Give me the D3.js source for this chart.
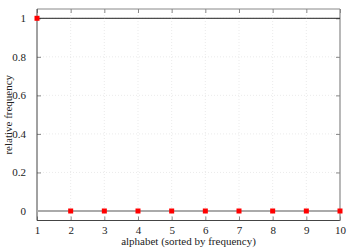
<!DOCTYPE html>
<html><head><meta charset="utf-8">
<script src="https://cdn.jsdelivr.net/npm/d3@7"></script>
<style>body{margin:0;background:#fff}svg{display:block}</style>
</head><body>
<svg id="c" width="358" height="251"></svg>
<script>
const letters = [1,2,3,4,5,6,7,8,9,10];
const freqs = [1,0,0,0,0,0,0,0,0,0];
const refLine = [1,1,1,1,1,1,1,1,1,1];
const baseLine = [0,0,0,0,0,0,0,0,0,0];
const xTicks = [1,2,3,4,5,6,7,8,9,10];
const yTicks = [0,0.2,0.4,0.6,0.8,1];

const FONT = '"Liberation Serif"';
const svg = d3.select("#c");
const L=37, R=340, T=9, B=220.5;
const x = d3.scaleLinear().domain([1,10]).range([L,R]);
const y = d3.scaleLinear().domain([0,1]).range([211,18.3]);

// grid
svg.append("g").selectAll("line").data(xTicks.slice(1,-1)).join("line")
  .attr("x1",d=>x(d)).attr("x2",d=>x(d)).attr("y1",T).attr("y2",B)
  .attr("stroke","#ddd").attr("stroke-width",0.6).attr("stroke-dasharray","1,2");
svg.append("g").selectAll("line").data(yTicks).join("line")
  .attr("x1",L).attr("x2",R).attr("y1",d=>y(d)).attr("y2",d=>y(d))
  .attr("stroke","#ddd").attr("stroke-width",0.6).attr("stroke-dasharray","1,2");

// axes with inward ticks
const fmt = d=>d===0?"0":d===1?"1":d3.format(".1f")(d);
const gb = svg.append("g").attr("transform",`translate(0,${B})`)
  .call(d3.axisBottom(x).tickValues(xTicks).tickSize(-4).tickPadding(6).tickFormat(d3.format("d")));
const gt = svg.append("g").attr("transform",`translate(0,${T})`)
  .call(d3.axisTop(x).tickValues(xTicks).tickSize(-4).tickFormat(""));
const gl = svg.append("g").attr("transform",`translate(${L},0)`)
  .call(d3.axisLeft(y).tickValues(yTicks).tickSize(-4).tickPadding(11).tickFormat(fmt));
const gr = svg.append("g").attr("transform",`translate(${R},0)`)
  .call(d3.axisRight(y).tickValues(yTicks).tickSize(-4).tickFormat(""));
[gb,gt,gl,gr].forEach(g=>{
  g.attr("font-family",null);
  g.select(".domain").remove();
  g.selectAll(".tick line").attr("stroke","#888").attr("stroke-width",1);
  g.selectAll("text").attr("font-size",11).attr("fill","#222").style("font-family",FONT);
});
// frame
svg.append("line").attr("x1",L).attr("x2",R).attr("y1",T).attr("y2",T).attr("stroke","#888").attr("stroke-width",1);
svg.append("line").attr("x1",L).attr("x2",R).attr("y1",B).attr("y2",B).attr("stroke","#444").attr("stroke-width",1);
svg.append("line").attr("x1",L).attr("x2",L).attr("y1",T).attr("y2",B).attr("stroke","#444").attr("stroke-width",1);
svg.append("line").attr("x1",R).attr("x2",R).attr("y1",T).attr("y2",B).attr("stroke","#888").attr("stroke-width",1.2);

// lines
const line = d3.line().x((d,i)=>x(letters[i])).y(d=>y(d));
svg.append("path").datum(baseLine).attr("d",line).attr("fill","none").attr("stroke","#aaa").attr("stroke-width",2);
svg.append("path").datum(refLine).attr("d",line).attr("fill","none").attr("stroke","#222").attr("stroke-width",1);

// markers
svg.append("g").selectAll("rect").data(freqs).join("rect")
  .attr("x",(d,i)=>x(letters[i])-2.5).attr("y",d=>y(d)-2.5)
  .attr("width",5).attr("height",5).attr("fill","#f00");

// labels
svg.append("text").attr("x",(L+R)/2).attr("y",245).attr("text-anchor","middle")
  .attr("font-size",11).attr("fill","#222").style("font-family",FONT).text("alphabet (sorted by frequency)");
svg.append("text").attr("transform",`translate(12,${(T+B)/2}) rotate(-90)`).attr("text-anchor","middle")
  .attr("font-size",11).attr("fill","#222").style("font-family",FONT).text("relative frequency");
</script>
</body></html>
